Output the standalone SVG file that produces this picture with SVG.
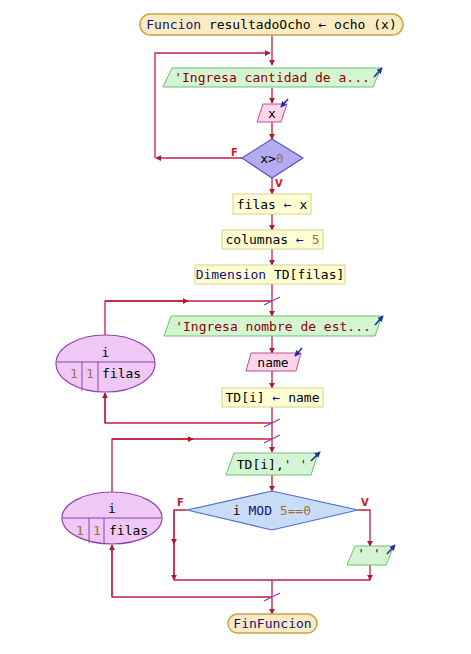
<svg xmlns="http://www.w3.org/2000/svg" width="471" height="654" viewBox="0 0 471 654">
<defs>
<marker id="ah" viewBox="0 0 8 8" refX="7" refY="4" markerWidth="6" markerHeight="6" markerUnits="userSpaceOnUse" orient="auto"><path d="M0,0 L8,4 L0,8 Z" fill="#b01830"/></marker>
<marker id="bh" viewBox="0 0 8 8" refX="7" refY="4" markerWidth="6" markerHeight="6" markerUnits="userSpaceOnUse" orient="auto"><path d="M0,0 L8,4 L0,8 Z" fill="#2030a0"/></marker>
<style>
text{font-family:"DejaVu Sans Mono","Liberation Mono",monospace;font-size:13px;fill:#000}
.c{stroke:#c02040;stroke-width:1.3;fill:none}
.ca{stroke:#c02040;stroke-width:1.3;fill:none;marker-end:url(#ah)}
.sl{stroke:#9040c0;stroke-width:1.3}
.term{fill:#fbebc2;stroke:#c8a050;stroke-width:1.5}
.out{fill:#d4f5d4;stroke:#70c070;stroke-width:1}
.inp{fill:#fbd5ec;stroke:#c05090;stroke-width:1}
.proc{fill:#ffffd4;stroke:#d8d08a;stroke-width:1}
.loop{fill:#efc8f5;stroke:#9040b0;stroke-width:1.2}
.ba{stroke:#2030a0;stroke-width:1.6;marker-end:url(#bh)}
.kw{fill:#101080}
.st{fill:#900000}
.num{fill:#a07040}
.lbl{fill:#c02030;font-family:"DejaVu Sans","Liberation Sans",sans-serif;font-size:10px;font-weight:bold}
</style>
</defs>
<g id="connectors">
<line class="ca" x1="272" y1="35" x2="272" y2="65"/>
<polyline class="ca" points="155,158 155,53 270,53"/>
<line class="ca" x1="272" y1="88" x2="272" y2="103"/>
<line class="ca" x1="272" y1="122" x2="272" y2="139"/>
<line class="ca" x1="242" y1="158" x2="156" y2="158"/>
<line class="ca" x1="272" y1="178" x2="272" y2="194"/>
<line class="ca" x1="272" y1="214" x2="272" y2="230"/>
<line class="ca" x1="272" y1="249" x2="272" y2="265"/>
<line class="ca" x1="272" y1="284" x2="272" y2="316"/>
<polyline class="c" points="105,335 105,301 272,301"/>
<line class="ca" x1="105" y1="301" x2="188" y2="301"/>
<line class="ca" x1="272" y1="336" x2="272" y2="353"/>
<line class="ca" x1="272" y1="371" x2="272" y2="388"/>
<line class="c" x1="272" y1="407" x2="272" y2="439"/>
<polyline class="c" points="272,423 105,423 105,393"/>
<line class="ca" x1="105" y1="423" x2="105" y2="393"/>
<line class="ca" x1="272" y1="439" x2="272" y2="452"/>
<polyline class="c" points="112,492 112,439 272,439"/>
<line class="ca" x1="112" y1="439" x2="193" y2="439"/>
<line class="ca" x1="272" y1="475" x2="272" y2="491"/>
<polyline class="c" points="187,510 174,510 174,580"/>
<line class="ca" x1="174" y1="510" x2="174" y2="544"/>
<line class="ca" x1="174" y1="544" x2="174" y2="580"/>
<polyline class="ca" points="358,510 370,510 370,546"/>
<line class="ca" x1="370" y1="565" x2="370" y2="580"/>
<line class="c" x1="174" y1="580" x2="370" y2="580"/>
<line class="ca" x1="272" y1="580" x2="272" y2="614"/>
<polyline class="c" points="272,597 112,597 112,545"/>
<line class="ca" x1="112" y1="597" x2="112" y2="545"/>
<line class="sl" x1="264" y1="305" x2="280" y2="297"/>
<line class="sl" x1="264" y1="427" x2="280" y2="419"/>
<line class="sl" x1="264" y1="443" x2="280" y2="435"/>
<line class="sl" x1="264" y1="601" x2="280" y2="593"/>
<text class="lbl" x="231" y="156">F</text>
<text class="lbl" x="275" y="187">V</text>
<text class="lbl" x="177" y="506">F</text>
<text class="lbl" x="361" y="506">V</text>
</g>
<g id="start">
<rect class="term" x="140" y="14" width="263" height="21" rx="10.5"/>
<text x="271.5" y="29" text-anchor="middle"><tspan class="kw">Funcion</tspan> resultadoOcho ← ocho (x)</text>
</g>
<g id="out1">
<polygon class="out" points="172,68 381,68 373,87 163,87"/>
<text x="272" y="82" text-anchor="middle" class="st">'Ingresa cantidad de a...</text>
<line class="ba" x1="374" y1="77" x2="382" y2="68"/>
</g>
<g id="in1">
<polygon class="inp" points="263,104 287,104 281,122 257,122"/>
<text x="272" y="118" text-anchor="middle">x</text>
<line class="ba" x1="288" y1="99" x2="281" y2="107"/>
</g>
<g id="cond1">
<polygon points="272,139 303,158 272,178 242,158" fill="#b4acf2" stroke="#6050c0" stroke-width="1.2"/>
<text x="272" y="163" text-anchor="middle">x&gt;<tspan class="num">0</tspan></text>
</g>
<g id="p1">
<rect class="proc" x="233" y="194" width="78" height="20"/>
<text x="272" y="208.5" text-anchor="middle">filas <tspan class="kw">←</tspan> x</text>
</g>
<g id="p2">
<rect class="proc" x="222" y="230" width="101" height="19"/>
<text x="272.5" y="244" text-anchor="middle">columnas <tspan class="kw">←</tspan> <tspan class="num">5</tspan></text>
</g>
<g id="p3">
<rect class="proc" x="195" y="265" width="150" height="19"/>
<text x="270" y="279" text-anchor="middle"><tspan class="kw">Dimension</tspan> TD[filas]</text>
</g>
<g id="loop1">
<ellipse class="loop" cx="105.5" cy="363.5" rx="49.5" ry="28.5"/>
<line x1="57" y1="362" x2="154" y2="362" stroke="#9040b0" stroke-width="1.2"/>
<line x1="82" y1="362" x2="82" y2="391" stroke="#9040b0" stroke-width="1"/>
<line x1="98" y1="362" x2="98" y2="392" stroke="#9040b0" stroke-width="1"/>
<text x="105.5" y="357" text-anchor="middle">i</text>
<text x="74" y="378" text-anchor="middle" class="num">1</text>
<text x="90" y="378" text-anchor="middle" class="num">1</text>
<text x="102" y="378">filas</text>
</g>
<g id="out2">
<polygon class="out" points="171,316 382,316 375,336 164,336"/>
<text x="273" y="330.5" text-anchor="middle" class="st">'Ingresa nombre de est...</text>
<line class="ba" x1="375" y1="325" x2="383" y2="316"/>
</g>
<g id="in2">
<polygon class="inp" points="251,353 301,353 296,371 246,371"/>
<text x="273" y="366.5" text-anchor="middle">name</text>
<line class="ba" x1="302" y1="348" x2="295" y2="356"/>
</g>
<g id="p4">
<rect class="proc" x="222" y="388" width="101" height="19"/>
<text x="272.5" y="402" text-anchor="middle">TD[i] <tspan class="kw">←</tspan> name</text>
</g>
<g id="loop2">
<ellipse class="loop" cx="112" cy="518" rx="50" ry="26"/>
<line x1="63" y1="518" x2="161" y2="518" stroke="#9040b0" stroke-width="1.2"/>
<line x1="89" y1="518" x2="89" y2="543" stroke="#9040b0" stroke-width="1"/>
<line x1="104" y1="518" x2="104" y2="544" stroke="#9040b0" stroke-width="1"/>
<text x="112" y="513" text-anchor="middle">i</text>
<text x="80" y="535" text-anchor="middle" class="num">1</text>
<text x="97" y="535" text-anchor="middle" class="num">1</text>
<text x="109" y="535">filas</text>
</g>
<g id="out3">
<polygon class="out" points="234,453 318,453 311,475 226,475"/>
<text x="272" y="468.5" text-anchor="middle">TD[i],<tspan class="st">' '</tspan></text>
<line class="ba" x1="311" y1="461" x2="320" y2="452"/>
</g>
<g id="cond2">
<polygon points="272,491 358,510 272,530 187,510" fill="#c8dcf8" stroke="#5070c8" stroke-width="1.2"/>
<text x="272" y="515" text-anchor="middle">i <tspan class="kw">MOD</tspan> <tspan class="num">5==0</tspan></text>
</g>
<g id="out4">
<polygon class="out" points="355,546 394,546 386,565 347,565"/>
<text x="369" y="558" text-anchor="middle" class="st">' '</text>
<line class="ba" x1="387" y1="554" x2="395" y2="545"/>
</g>
<g id="end">
<rect class="term" x="228" y="614" width="89" height="19" rx="9.5"/>
<text x="272.5" y="628" text-anchor="middle" class="kw">FinFuncion</text>
</g>
</svg>
